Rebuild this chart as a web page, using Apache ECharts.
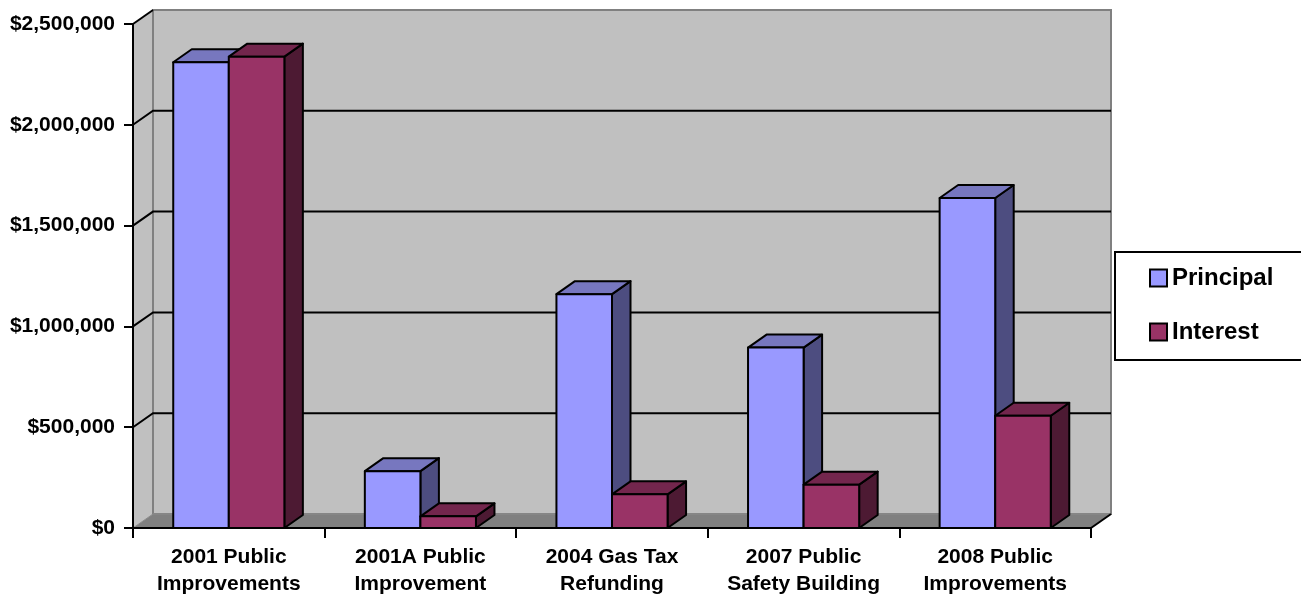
<!DOCTYPE html>
<html>
<head>
<meta charset="utf-8">
<script src="https://cdn.jsdelivr.net/npm/echarts@6/dist/echarts.min.js"></script>
<style>
html,body{margin:0;padding:0;background:#fff;}
#chart{width:1301px;height:598px;}
</style>
</head>
<body>
<div id="chart"></div>
<script>
const categories = ['2001 Public\nImprovements', '2001A Public\nImprovement', '2004 Gas Tax\nRefunding', '2007 Public\nSafety Building', '2008 Public\nImprovements'];
const principal = [2310000, 282000, 1160000, 895000, 1637000];
const interest = [2338000, 58000, 167000, 215000, 557000];
const yTicks = [0, 500000, 1000000, 1500000, 2000000, 2500000];

const FONT = '"Liberation Sans", Arial, sans-serif';
const WX = 20, WY = -14;     // wall depth offset
const BX = 18.5, BY = -13;   // bar depth offset

const faces = {
  Principal: { front: '#9999FF', top: '#7777BF', side: '#4D4D80' },
  Interest:  { front: '#993366', top: '#73264D', side: '#4D1A33' }
};

function fmt(v) {
  return '$' + String(v).replace(/\B(?=(\d{3})+(?!\d))/g, ',');
}

function barRenderer(name, slot) {
  const c = faces[name];
  return function (params, api) {
    const cat = api.value(0), val = api.value(1);
    const b = api.coord([cat, 0]);
    const t = api.coord([cat, val]);
    const band = api.size([1, 0])[0];
    const bw = band * 0.29;
    const x0 = b[0] - bw + slot * bw;
    const x1 = x0 + bw;
    const yT = t[1], yB = b[1];
    const st = { stroke: '#000', lineWidth: 2, lineJoin: 'round' };
    return {
      type: 'group',
      children: [
        { type: 'polygon', shape: { points: [[x1, yT], [x1 + BX, yT + BY], [x1 + BX, yB + BY], [x1, yB]] }, style: Object.assign({ fill: c.side }, st) },
        { type: 'polygon', shape: { points: [[x0, yT], [x1, yT], [x1 + BX, yT + BY], [x0 + BX, yT + BY]] }, style: Object.assign({ fill: c.top }, st) },
        { type: 'rect', shape: { x: x0, y: yT, width: bw, height: yB - yT }, style: Object.assign({ fill: c.front }, st) }
      ]
    };
  };
}

function wallRenderer(params, api) {
  const band = api.size([1, 0])[0];
  const left = api.coord([0, 0])[0] - band / 2;
  const right = api.coord([categories.length - 1, 0])[0] + band / 2;
  const bottom = api.coord([0, 0])[1];
  const top = api.coord([0, yTicks[yTicks.length - 1]])[1];
  const children = [
    { type: 'polygon', shape: { points: [[left, top], [left + WX, top + WY], [left + WX, bottom + WY], [left, bottom]] }, style: { fill: '#C0C0C0' } },
    { type: 'rect', shape: { x: left + WX, y: top + WY, width: right - left, height: bottom - top }, style: { fill: '#C0C0C0', stroke: '#808080', lineWidth: 2 } },
    { type: 'polygon', shape: { points: [[left, bottom], [right, bottom], [right + WX, bottom + WY], [left + WX, bottom + WY]] }, style: { fill: '#808080', stroke: '#8C8C8C', lineWidth: 1 } },
    { type: 'line', shape: { x1: right, y1: bottom, x2: right + WX, y2: bottom + WY }, style: { stroke: '#000', lineWidth: 2 } }
  ];
  yTicks.forEach(function (v, i) {
    if (v === 0) return;
    const y = api.coord([0, v])[1];
    if (i === yTicks.length - 1) {
      children.push({ type: 'line', shape: { x1: left, y1: y, x2: left + WX, y2: y + WY }, style: { stroke: '#000', lineWidth: 2 } });
    } else {
      children.push({ type: 'polyline', shape: { points: [[left, y], [left + WX, y + WY], [right + WX, y + WY]] }, style: { stroke: '#000', lineWidth: 2, fill: null } });
    }
  });
  return { type: 'group', children: children };
}

const chart = echarts.init(document.getElementById('chart'), null, { renderer: 'canvas' });
chart.setOption({
  animation: false,
  backgroundColor: '#fff',
  grid: { left: 133, right: 210, top: 24, bottom: 67, containLabel: false },
  legend: {
    orient: 'vertical',
    left: 1115,
    top: 252,
    data: ['Principal', 'Interest'],
    icon: 'rect',
    itemWidth: 17,
    itemHeight: 17,
    itemGap: 30,
    padding: [14, 29, 16, 34],
    backgroundColor: '#fff',
    borderColor: '#000',
    borderWidth: 2,
    itemStyle: { borderColor: '#000', borderWidth: 2 },
    textStyle: { fontFamily: FONT, fontWeight: 'bold', fontSize: 24, color: '#000', padding: [0, 0, 0, 0] }
  },
  xAxis: {
    type: 'category',
    data: categories,
    z: 3,
    axisLine: { show: true, lineStyle: { color: '#000', width: 2 } },
    axisTick: { show: true, length: 10, interval: 0, lineStyle: { color: '#000', width: 2 } },
    axisLabel: { interval: 0, margin: 16, fontFamily: FONT, fontWeight: 'bold', fontSize: 21, lineHeight: 27, color: '#000' },
    splitLine: { show: false }
  },
  yAxis: {
    type: 'value',
    min: 0,
    max: 2500000,
    interval: 500000,
    z: 3,
    axisLine: { show: true, lineStyle: { color: '#000', width: 2 } },
    axisTick: { show: true, length: 9, lineStyle: { color: '#000', width: 2 } },
    axisLabel: { margin: 18, fontFamily: FONT, fontWeight: 'bold', fontSize: 21, color: '#000', formatter: fmt },
    splitLine: { show: false }
  },
  series: [
    { type: 'custom', name: 'walls', z: 1, silent: true, renderItem: wallRenderer, data: [[0, 0]], encode: { x: 0, y: 1 } },
    { type: 'custom', name: 'Principal', z: 4, itemStyle: { color: '#9999FF' }, renderItem: barRenderer('Principal', 0),
      data: principal.map(function (v, i) { return [i, v]; }), encode: { x: 0, y: 1 } },
    { type: 'custom', name: 'Interest', z: 5, itemStyle: { color: '#993366' }, renderItem: barRenderer('Interest', 1),
      data: interest.map(function (v, i) { return [i, v]; }), encode: { x: 0, y: 1 } }
  ]
});
</script>
</body>
</html>
